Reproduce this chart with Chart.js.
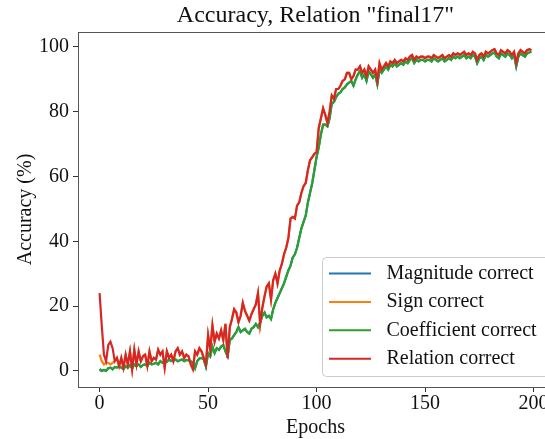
<!DOCTYPE html>
<html>
<head>
<meta charset="utf-8">
<script src="https://cdn.jsdelivr.net/npm/chart.js@4.4.1/dist/chart.umd.min.js"></script>
<style>
  body { margin: 0; background: #fff; }
  #wrap { width: 545px; height: 439px; overflow: hidden; }
</style>
</head>
<body>
<div id="wrap"><canvas id="accChart" width="560" height="439"></canvas></div>
<script>
// Epoch index along the x axis
const epochs = Array.from({ length: 200 }, (_, i) => i);
const xTicks = [0, 50, 100, 150, 200];
const yTicks = [0, 20, 40, 60, 80, 100];
const seriesNames = ['Magnitude correct', 'Sign correct', 'Coefficient correct', 'Relation correct'];

// Relation correct (red, drawn on top)
const relationCorrect = [
  24, 14, 5, 3, 8, 9, 7, 3, 4, 1.5,
  4, 1, 5, 2, 6, 0.5, 6.5, 2, 6, 3,
  4.5, 5, 1.5, 6, 3, 4, 3.5, 6.5, 5, 6,
  1, 6, 4, 5, 3, 6, 7, 5, 6, 4,
  5, 4.5, 2, 0.5, 6, 5, 7, 6, 4, 2,
  11, 6.5, 14, 9, 11.5, 10, 12.5, 9.5, 14.5, 4,
  13.5, 16, 19, 18, 15, 17, 21, 18.5, 17, 15.5,
  17.5, 19, 20.5, 24, 14.5, 19.5, 23, 26, 27, 22,
  28, 30, 27, 31, 33, 36, 38, 41, 47, 47.5,
  47, 51, 52, 55, 57, 58, 62, 65, 66, 67,
  67.5, 75, 78, 81, 79, 76.5, 80, 85, 84, 87,
  87, 88, 89.5, 90, 92, 92, 90, 91, 93, 93,
  94, 92, 93, 91, 94, 93, 92, 93, 89.5, 95,
  93, 94, 95, 94, 95.5, 95, 96, 95, 95.5, 96,
  95.5, 96.5, 96, 97, 97.5, 96, 97, 96.5, 97, 97,
  96.5, 97, 97, 96.5, 97.5, 97, 96.5, 97, 97.5, 96.5,
  97, 97.5, 97, 98, 97.5, 98, 97.5, 98, 98.5, 97.5,
  98, 97.5, 98.5, 98, 96, 97.5, 98, 97, 98.5, 98,
  98.5, 99, 99.3, 98, 97.5, 99, 98.5, 98, 99, 98.5,
  97.5, 98.5, 95, 98, 99, 98.5, 98, 99, 99.3, 99
];

// Coefficient correct (green)
const coefficientCorrect = [
  0.5, 0, 0.3, 0, 0.8, 1, 0.5, 1.2, 1, 1.5,
  1, 0.5, 1.5, 1, 1.8, 0.8, 2, 1.5, 2, 1.2,
  1.8, 2, 1.5, 2.5, 2, 2.2, 2.5, 2, 3, 2.5,
  3, 2.8, 3.5, 3, 3.2, 3.5, 3, 3.3, 3.5, 3,
  3.4, 3.2, 3, 2.5, 0.8, 3, 3.8, 4, 3.5, 1.3,
  5.5, 4.5, 7.5, 5.5, 7, 6.5, 7.5, 8, 6, 4.5,
  9.5, 10, 11, 12, 13.5, 12, 12.5, 13, 12, 11.5,
  13, 13.5, 14.5, 13.5, 15, 17, 18, 16.5, 17, 16,
  19, 21, 22.5, 24, 25.5, 27, 29, 31, 32.5, 35,
  36, 38, 41, 44, 46, 48, 52, 55, 58, 62,
  66, 69, 73, 76, 76, 75.5, 78, 82.5, 83, 84.5,
  85.5, 86, 87, 87.5, 88.5, 89, 89.5, 88, 90, 91.5,
  92.5, 90.5, 91.5, 89.5, 92.5, 91.5, 90.5, 91.5, 88.5, 93,
  92, 93, 94, 93, 94.5, 94, 95, 94, 94.5, 95,
  94.5, 95.5, 95, 96, 96.5, 95, 96, 95.5, 96, 96,
  95.5, 96, 96, 95.5, 96.5, 96, 95.5, 96, 96.5, 95.5,
  96, 96.5, 96, 97, 96.5, 97, 96.5, 97, 97.5, 96.5,
  97, 96.5, 97.5, 97, 95, 96.5, 97, 96, 97.5, 97,
  97.5, 98, 98.3, 97, 96.5, 98, 97.5, 97, 98, 97.5,
  96.5, 97.5, 94, 97, 98, 97.5, 97, 98, 98.3, 98.5
];

// Sign correct (orange) - only the first epochs show, the rest sits under the red line
const signCorrect = [
  5, 3, 2, 2.5, 2.5, 2, 2.5, 3, 4, 1.5,
  4, 1, 5, 2, 6, 0.5, 6.5, 2, 6, 3,
  4.5, 5, 1.5, 6, 3, 4, 3.5, 6.5, 5, 6,
  1, 6, 4, 5, 3, 6, 7, 5, 6, 4,
  5, 4.5, 2, 0.5, 6, 5, 7, 6, 4, 2,
  11, 6.5, 14, 9, 11.5, 10, 12.5, 9.5, 14.5, 4,
  13.5, 16, 19, 18, 15, 17, 21, 18.5, 17, 15.5,
  17.5, 19, 20.5, 24, 14.5, 19.5, 23, 26, 27, 22,
  28, 30, 27, 31, 33, 36, 38, 41, 47, 47.5,
  47, 51, 52, 55, 57, 58, 62, 65, 66, 67,
  67.5, 75, 78, 81, 79, 76.5, 80, 85, 84, 87,
  87, 88, 89.5, 90, 92, 92, 90, 91, 93, 93,
  94, 92, 93, 91, 94, 93, 92, 93, 89.5, 95,
  93, 94, 95, 94, 95.5, 95, 96, 95, 95.5, 96,
  95.5, 96.5, 96, 97, 97.5, 96, 97, 96.5, 97, 97,
  96.5, 97, 97, 96.5, 97.5, 97, 96.5, 97, 97.5, 96.5,
  97, 97.5, 97, 98, 97.5, 98, 97.5, 98, 98.5, 97.5,
  98, 97.5, 98.5, 98, 96, 97.5, 98, 97, 98.5, 98,
  98.5, 99, 99.3, 98, 97.5, 99, 98.5, 98, 99, 98.5,
  97.5, 98.5, 95, 98, 99, 98.5, 98, 99, 99.3, 99
];

// Magnitude correct (blue) - fully hidden under the green line
const magnitudeCorrect = [
  0.5, 0, 0.3, 0, 0.8, 1, 0.5, 1.2, 1, 1.5,
  1, 0.5, 1.5, 1, 1.8, 0.8, 2, 1.5, 2, 1.2,
  1.8, 2, 1.5, 2.5, 2, 2.2, 2.5, 2, 3, 2.5,
  3, 2.8, 3.5, 3, 3.2, 3.5, 3, 3.3, 3.5, 3,
  3.4, 3.2, 3, 2.5, 0.8, 3, 3.8, 4, 3.5, 1.3,
  5.5, 4.5, 7.5, 5.5, 7, 6.5, 7.5, 8, 6, 4.5,
  9.5, 10, 11, 12, 13.5, 12, 12.5, 13, 12, 11.5,
  13, 13.5, 14.5, 13.5, 15, 17, 18, 16.5, 17, 16,
  19, 21, 22.5, 24, 25.5, 27, 29, 31, 32.5, 35,
  36, 38, 41, 44, 46, 48, 52, 55, 58, 62,
  66, 69, 73, 76, 76, 75.5, 78, 82.5, 83, 84.5,
  85.5, 86, 87, 87.5, 88.5, 89, 89.5, 88, 90, 91.5,
  92.5, 90.5, 91.5, 89.5, 92.5, 91.5, 90.5, 91.5, 88.5, 93,
  92, 93, 94, 93, 94.5, 94, 95, 94, 94.5, 95,
  94.5, 95.5, 95, 96, 96.5, 95, 96, 95.5, 96, 96,
  95.5, 96, 96, 95.5, 96.5, 96, 95.5, 96, 96.5, 95.5,
  96, 96.5, 96, 97, 96.5, 97, 96.5, 97, 97.5, 96.5,
  97, 96.5, 97.5, 97, 95, 96.5, 97, 96, 97.5, 97,
  97.5, 98, 98.3, 97, 96.5, 98, 97.5, 97, 98, 97.5,
  96.5, 97.5, 94, 97, 98, 97.5, 97, 98, 98.3, 98.5
];

const seriesValues = [magnitudeCorrect, signCorrect, coefficientCorrect, relationCorrect];
const seriesColors = ['#1f77b4', '#ff7f0e', '#2ca02c', '#d62728'];

const serif = "'Liberation Serif', 'Times New Roman', serif";
const textColor = '#111';

// title, axis titles, top spine and the in-plot legend (matplotlib style)
const decorations = {
  id: 'decorations',
  afterDraw(chart) {
    const { ctx, chartArea } = chart;
    ctx.save();

    // top spine
    ctx.strokeStyle = '#555';
    ctx.lineWidth = 1;
    ctx.beginPath();
    ctx.moveTo(chartArea.left, chartArea.top + 0.5);
    ctx.lineTo(chartArea.right, chartArea.top + 0.5);
    ctx.stroke();

    ctx.fillStyle = textColor;
    ctx.textAlign = 'center';
    ctx.textBaseline = 'middle';
    const midX = (chartArea.left + chartArea.right) / 2;

    ctx.font = `24px ${serif}`;
    ctx.fillText('Accuracy, Relation "final17"', midX, 16);

    ctx.font = `20px ${serif}`;
    ctx.fillText('Epochs', midX, 428);

    ctx.save();
    ctx.translate(26, (chartArea.top + chartArea.bottom) / 2);
    ctx.rotate(-Math.PI / 2);
    ctx.fillText('Accuracy (%)', 0, 0);
    ctx.restore();

    // legend box, lower right
    const bx = 322.5, by = 257.5, bw = 260, bh = 119, r = 4;
    ctx.beginPath();
    ctx.moveTo(bx + r, by);
    ctx.lineTo(bx + bw - r, by);
    ctx.arcTo(bx + bw, by, bx + bw, by + r, r);
    ctx.lineTo(bx + bw, by + bh - r);
    ctx.arcTo(bx + bw, by + bh, bx + bw - r, by + bh, r);
    ctx.lineTo(bx + r, by + bh);
    ctx.arcTo(bx, by + bh, bx, by + bh - r, r);
    ctx.lineTo(bx, by + r);
    ctx.arcTo(bx, by, bx + r, by, r);
    ctx.closePath();
    ctx.fillStyle = 'rgba(255,255,255,0.8)';
    ctx.fill();
    ctx.strokeStyle = '#cccccc';
    ctx.stroke();

    ctx.textAlign = 'left';
    ctx.font = `20px ${serif}`;
    chart.data.datasets.forEach((ds, i) => {
      const rowY = 273.5 + i * 28.4;
      ctx.strokeStyle = ds.borderColor;
      ctx.lineWidth = 2;
      ctx.beginPath();
      ctx.moveTo(329, rowY);
      ctx.lineTo(371, rowY);
      ctx.stroke();
      ctx.fillStyle = textColor;
      ctx.fillText(ds.label, 386.5, rowY);
    });

    ctx.restore();
  }
};

const ctx = document.getElementById('accChart').getContext('2d');

new Chart(ctx, {
  type: 'line',
  data: {
    datasets: seriesNames.map((name, k) => ({
      label: name,
      data: seriesValues[k].map((v, i) => ({ x: epochs[i], y: v })),
      borderColor: seriesColors[k],
      backgroundColor: seriesColors[k],
      borderWidth: 2.2,
      pointRadius: 0,
      tension: 0,
      fill: false,
      order: seriesNames.length - 1 - k, // later series drawn on top, like matplotlib
    })),
  },
  options: {
    responsive: false,
    animation: false,
    devicePixelRatio: 1,
    layout: { padding: { left: 0, right: 7, top: 32, bottom: 0 } },
    plugins: {
      legend: { display: false },
      tooltip: { enabled: false },
      title: { display: false },
    },
    scales: {
      x: {
        type: 'linear',
        min: -9.95,
        max: 208.95,
        afterBuildTicks: s => { s.ticks = xTicks.map(v => ({ value: v })); },
        afterFit: s => { s.height = 52; },
        grid: { drawOnChartArea: false, drawTicks: true, tickLength: 5, tickColor: '#333' },
        border: { display: true, color: '#555', width: 1 },
        ticks: {
          padding: 0,
          maxRotation: 0,
          color: textColor,
          font: { family: serif, size: 20 },
        },
      },
      y: {
        type: 'linear',
        min: -4.98,
        max: 104.6,
        afterBuildTicks: s => { s.ticks = yTicks.map(v => ({ value: v })); },
        afterFit: s => { s.width = 78; },
        grid: { drawOnChartArea: false, drawTicks: true, tickLength: 5, tickColor: '#333' },
        border: { display: true, color: '#555', width: 1 },
        ticks: {
          padding: 4,
          color: textColor,
          font: { family: serif, size: 20 },
        },
      },
    },
  },
  plugins: [decorations],
});
</script>
</body>
</html>
